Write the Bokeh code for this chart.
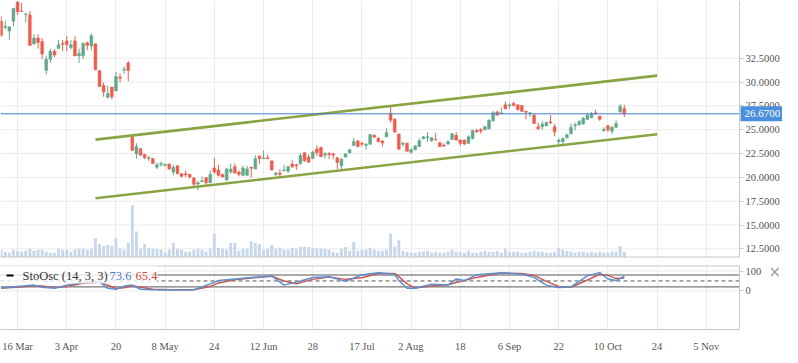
from bokeh.plotting import figure
from bokeh.models import (Range1d, FixedTicker, Label, ColumnDataSource,
                          PrintfTickFormatter, BoxAnnotation, LinearAxis)
from bokeh.layouts import column
from bokeh.embed import file_html
from bokeh.resources import INLINE

# ---------------- data ----------------
opens = [36.37, 35.73, 35.36, 36.37, 38.39, 37.45, 37.08, 37.04, 34.01, 34.62,
         34.25, 31.22, 32.40, 33.24, 33.51, 34.05, 34.32, 33.61, 34.32, 32.74,
         32.74, 34.12, 33.78, 34.01, 31.22, 29.64, 28.39, 29.47, 29.07, 30.51,
         31.25, 32.00, 24.25, 22.47, 23.01, 22.40, 21.96, 21.96, 21.05, 21.36,
         21.26, 21.39, 20.55, 21.22, 20.38, 20.38, 20.31, 19.94, 19.30, 19.54,
         19.98, 19.44, 20.99, 20.78, 20.31, 19.71, 20.55, 21.12, 20.55, 20.21,
         20.21, 21.05, 20.88, 22.23, 21.96, 22.06, 21.73, 20.31, 20.45, 20.68,
         20.65, 21.39, 21.32, 21.46, 22.57, 22.13, 21.99, 22.97, 23.14, 22.33,
         22.50, 22.47, 22.06, 21.22, 22.13, 22.57, 23.34, 23.81, 23.58, 23.34,
         23.48, 24.42, 24.08, 23.81, 24.25, 26.70, 26.10, 24.55, 23.47, 23.57,
         22.63, 22.90, 23.24, 24.08, 24.15, 23.84, 23.98, 23.64, 23.40, 23.50,
         23.98, 24.41, 23.91, 23.91, 23.57, 24.08, 24.92, 24.99, 24.99, 25.09,
         25.93, 26.87, 26.67, 27.61, 27.51, 27.75, 27.61, 27.55, 26.94, 26.67,
         26.54, 25.32, 25.32, 25.42, 25.83, 25.32, 23.74, 23.74, 24.15, 24.58,
         25.42, 25.53, 25.59, 26.10, 26.27, 26.77, 26.43, 24.92, 25.42, 24.85,
         25.26, 26.87, 27.21]
highs = [36.88, 36.44, 35.80, 37.80, 38.46, 38.32, 37.28, 37.45, 35.02, 35.02,
         34.62, 32.77, 33.51, 33.44, 34.42, 34.42, 34.82, 34.42, 34.82, 33.51,
         34.18, 34.25, 35.09, 34.01, 31.22, 29.97, 29.64, 29.47, 31.09, 30.88,
         31.66, 32.23, 24.35, 23.58, 23.07, 22.47, 22.30, 22.06, 21.56, 21.66,
         21.39, 21.46, 21.32, 21.22, 20.45, 20.72, 20.38, 20.04, 19.64, 20.11,
         19.98, 20.72, 22.06, 21.32, 20.38, 20.99, 21.46, 21.46, 20.72, 21.22,
         21.22, 21.12, 22.33, 22.30, 22.80, 22.40, 21.73, 20.55, 20.88, 21.32,
         21.22, 21.79, 21.46, 22.57, 22.67, 22.40, 22.80, 23.34, 23.24, 22.67,
         22.67, 22.57, 22.13, 22.06, 22.47, 23.00, 24.15, 23.91, 23.75, 23.58,
         24.49, 24.52, 24.25, 23.91, 25.16, 27.45, 26.20, 24.60, 23.74, 23.64,
         23.07, 23.40, 24.08, 24.31, 24.75, 24.25, 24.65, 23.74, 23.57, 23.91,
         24.65, 24.75, 23.98, 23.98, 24.41, 24.99, 25.09, 25.19, 25.42, 26.10,
         26.94, 27.00, 27.34, 27.95, 27.78, 27.95, 27.61, 27.55, 26.94, 26.87,
         26.60, 25.76, 25.93, 25.86, 26.54, 25.59, 24.08, 24.18, 24.58, 25.66,
         25.76, 26.00, 26.33, 26.77, 26.87, 27.11, 26.43, 25.26, 25.42, 25.42,
         26.00, 27.68, 27.61]
lows = [34.75, 35.53, 34.45, 35.87, 37.04, 37.38, 36.27, 33.85, 33.91, 33.51,
        32.40, 30.82, 32.00, 32.60, 33.51, 33.24, 33.24, 33.44, 32.74, 32.00,
        32.43, 33.34, 33.34, 31.22, 29.47, 28.46, 28.29, 28.19, 29.07, 29.97,
        30.88, 30.08, 22.74, 21.96, 22.30, 21.90, 21.73, 21.39, 20.88, 21.12,
        21.12, 20.78, 20.21, 20.31, 19.98, 20.04, 19.87, 19.10, 18.63, 19.54,
        19.20, 19.37, 20.38, 20.11, 20.00, 19.64, 20.38, 20.38, 20.11, 20.14,
        20.14, 19.98, 20.85, 21.39, 21.96, 21.90, 20.72, 20.11, 19.87, 20.65,
        20.45, 20.99, 20.78, 21.32, 21.66, 21.56, 21.90, 22.23, 22.13, 21.99,
        21.90, 21.90, 20.88, 20.88, 22.06, 22.47, 23.34, 23.14, 23.24, 22.90,
        23.41, 24.15, 23.68, 23.24, 24.20, 25.75, 24.65, 22.85, 23.24, 22.73,
        22.50, 22.83, 23.17, 23.98, 23.74, 23.74, 23.91, 23.17, 23.17, 23.40,
        23.91, 23.84, 23.30, 23.40, 23.50, 23.98, 24.65, 24.58, 24.92, 24.99,
        25.86, 26.43, 26.67, 27.11, 27.21, 27.45, 27.01, 26.87, 26.10, 26.33,
        25.60, 24.99, 24.99, 25.32, 25.59, 24.31, 23.50, 23.50, 24.08, 24.51,
        24.92, 25.42, 25.53, 26.00, 26.20, 26.54, 25.93, 24.75, 24.75, 24.51,
        25.19, 26.77, 26.33]
closes = [34.92, 35.87, 35.80, 37.72, 37.38, 37.40, 37.15, 33.85, 34.62, 34.15,
          32.94, 32.40, 33.24, 32.84, 33.91, 33.98, 33.91, 33.91, 32.74, 33.00,
          34.05, 33.85, 34.86, 31.32, 29.54, 28.96, 28.80, 28.46, 30.58, 30.41,
          31.35, 31.22, 22.84, 23.24, 22.33, 22.06, 22.06, 21.46, 21.32, 21.46,
          21.39, 20.88, 21.05, 20.38, 20.11, 20.28, 20.04, 19.27, 19.44, 19.64,
          19.44, 20.31, 20.55, 20.21, 20.04, 20.88, 20.88, 20.45, 20.31, 20.99,
          20.88, 20.95, 21.95, 21.96, 22.06, 21.96, 20.78, 20.45, 20.31, 20.78,
          21.12, 21.12, 21.22, 22.30, 21.73, 21.59, 22.67, 22.57, 22.16, 22.47,
          22.40, 22.33, 21.56, 21.90, 22.47, 22.90, 23.75, 23.24, 23.48, 23.48,
          24.49, 24.22, 23.75, 23.60, 24.70, 26.00, 24.75, 22.97, 23.57, 22.73,
          22.90, 23.30, 23.84, 24.25, 24.25, 24.15, 23.91, 23.24, 23.30, 23.74,
          24.58, 23.91, 23.57, 23.50, 24.25, 24.92, 24.79, 24.85, 25.32, 26.00,
          26.77, 26.54, 26.77, 27.21, 27.61, 27.55, 27.11, 26.94, 26.84, 26.77,
          25.66, 25.09, 25.59, 25.76, 25.73, 24.75, 23.91, 24.08, 24.48, 25.26,
          25.53, 25.86, 26.20, 26.54, 26.67, 26.67, 26.10, 25.05, 24.99, 25.26,
          25.66, 27.45, 26.67]
volumes = [320, 240, 200, 320, 280, 240, 280, 360, 280, 320,
           320, 240, 200, 200, 360, 320, 320, 240, 320, 360,
           360, 320, 360, 800, 560, 480, 520, 480, 800, 360,
           320, 600, 2160, 1080, 360, 560, 400, 360, 360, 320,
           200, 320, 600, 360, 320, 240, 240, 320, 360, 320,
           240, 360, 1000, 400, 360, 320, 600, 600, 280, 360,
           360, 680, 600, 560, 320, 360, 520, 360, 400, 320,
           320, 400, 360, 440, 440, 440, 400, 360, 360, 360,
           320, 240, 200, 360, 440, 280, 640, 280, 320, 320,
           400, 320, 280, 280, 320, 1000, 440, 720, 280, 240,
           200, 200, 240, 240, 280, 200, 240, 200, 200, 240,
           320, 240, 240, 200, 280, 200, 200, 240, 280, 240,
           240, 280, 200, 360, 240, 240, 240, 200, 200, 240,
           280, 240, 240, 200, 200, 240, 400, 320, 280, 240,
           200, 240, 240, 200, 240, 200, 240, 200, 200, 240,
           240, 480, 240]

# stochastic oscillator (read at sample bars)
k_bar = [0, 4, 8, 10, 13, 16, 20, 24, 26, 28, 30, 32, 34, 37, 42, 47, 51, 53, 57, 61,
         64, 66, 69, 72, 76, 80, 84, 88, 92, 96, 97, 99, 101, 105, 109, 111, 113, 116,
         122, 127, 130, 133, 136, 139, 143, 146, 148, 150, 152]
k_vals = [13, 22, 29, 18, 13, 29, 44, 44, 13, 8, 24, 29, 8, 5, 4, 6, 35, 52, 60, 68,
          71, 76, 29, 44, 67, 71, 48, 81, 92, 84, 52, 13, 13, 33, 29, 60, 52, 81,
          92, 84, 68, 29, 17, 20, 76, 92, 60, 52, 73.6]
d_vals = [15, 18, 26, 24, 16, 22, 38, 44, 28, 12, 16, 26, 18, 8, 5, 5, 22, 40, 56, 65,
          70, 74, 50, 36, 58, 70, 58, 66, 88, 88, 72, 35, 15, 24, 31, 42, 52, 68,
          90, 88, 78, 48, 22, 18, 55, 84, 78, 62, 65.4]

# channel lines (bar index, price)
trend_x = [23.0, 160.0]
upper_y = [23.96, 30.68]
lower_y = [17.80, 24.52]

last_price = 26.67
price_ticks = [12.5, 15.0, 17.5, 20.0, 22.5, 25.0, 27.5, 30.0, 32.5]
osc_ticks = [0, 100]
osc_levels = [80, 50, 20]
tick_bars = [4, 16, 28, 40, 52, 64, 76, 88, 100, 112, 124, 136, 148, 160, 172]
tick_labels = ["16 Mar", "3 Apr", "20", "8 May", "24", "12 Jun", "28", "17 Jul",
               "2 Aug", "18", "6 Sep", "22", "10 Oct", "24", "5 Nov"]

# ---------------- layout / styling ----------------
TOTAL_W = 782
FW = 739                 # width of the plotting area left of the price axis
FH1 = 257
FH2 = 64
X0, X_EDGE = -0.16, 180.1
XR_END = X0 + TOTAL_W * (X_EDGE - X0) / FW
SERIF = "Liberation Serif"
GREEN = "#62a88a"
RED = "#ee5d4e"
GRID = "#ebebeb"
AXC = "#c8c8c8"
LBL = "#555555"

idx = list(range(len(opens)))
colors = [GREEN if c >= o else RED for o, c in zip(opens, closes)]
src = ColumnDataSource(dict(
    x=idx, o=opens, h=highs, l=lows, c=closes,
    top=[max(o, c) for o, c in zip(opens, closes)],
    bot=[min(o, c) for o, c in zip(opens, closes)],
    col=colors, vol=volumes))

xr = Range1d(X0, XR_END)
yr_main = Range1d(11.59, 38.56)
yr_osc = Range1d(-195, 128)


def price_axis(ticks, fmt):
    return LinearAxis(fixed_location=X_EDGE, ticker=FixedTicker(ticks=ticks),
                      formatter=PrintfTickFormatter(format=fmt),
                      axis_line_color=AXC, major_tick_line_color=AXC,
                      major_tick_out=4, major_tick_in=0, minor_tick_line_color=None,
                      major_label_standoff=2, major_label_text_font=SERIF,
                      major_label_text_font_size="10.5px", major_label_text_color=LBL)


def hlines(fig, levels, **kw):
    n = len(levels)
    fig.segment(x0=[X0] * n, x1=[X_EDGE] * n, y0=levels, y1=levels, **kw)


# ---------------- main price panel ----------------
p = figure(frame_width=TOTAL_W, frame_height=FH1, x_range=xr, y_range=yr_main,
           x_axis_location=None, y_axis_location=None,
           toolbar_location=None, output_backend="svg",
           min_border_left=0, min_border_top=0, min_border_bottom=1, min_border_right=0)
p.outline_line_color = None
p.extra_y_ranges = {"vol": Range1d(0, 10680)}
p.xgrid.ticker = FixedTicker(ticks=tick_bars)
p.xgrid.grid_line_color = GRID
p.ygrid.visible = False
hlines(p, price_ticks, line_color=GRID, line_width=1, level="underlay")

p.vbar(x="x", top="vol", bottom=0, width=0.7, source=src, y_range_name="vol",
       fill_color="#c6d6eb", line_color=None)
p.segment(x0="x", y0="l", x1="x", y1="h", source=src, line_color="col", line_width=1)
p.vbar(x="x", top="top", bottom="bot", width=0.7, source=src,
       fill_color="col", line_color="col", line_width=0.5)

p.line(trend_x, upper_y, line_color="#8aa443", line_width=2.6)
p.line(trend_x, lower_y, line_color="#8aa443", line_width=2.6)

hlines(p, [last_price], line_color="#3f7fcb", line_width=1)
hlines(p, [yr_main.start], line_color=AXC, line_width=2)

p.add_layout(price_axis(price_ticks, "%.4f"), "right")

tag_y = (last_price - yr_main.start) / (yr_main.end - yr_main.start) * FH1
p.add_layout(Label(x=FW + 1, y=tag_y, x_units="screen", y_units="screen",
                   text="%.4f" % last_price,
                   text_baseline="middle", text_align="left", text_color="white",
                   text_font=SERIF, text_font_size="11px",
                   background_fill_color="#4a8fdb", padding=4))

# ---------------- oscillator panel ----------------
q = figure(frame_width=TOTAL_W, frame_height=FH2, x_range=xr, y_range=yr_osc,
           y_axis_location=None, toolbar_location=None, output_backend="svg",
           min_border_left=0, min_border_top=7, min_border_bottom=18, min_border_right=0)
q.outline_line_color = None

xa = q.xaxis[0]
xa.ticker = FixedTicker(ticks=tick_bars)
xa.major_label_overrides = {b: t for b, t in zip(tick_bars, tick_labels)}
xa.bounds = (X0, X_EDGE)
xa.axis_line_color = AXC
xa.major_tick_line_color = None
xa.minor_tick_line_color = None
xa.major_label_standoff = 5
xa.major_label_text_font = SERIF
xa.major_label_text_font_size = "10.5px"
xa.major_label_text_color = LBL
q.xgrid.ticker = FixedTicker(ticks=tick_bars)
q.xgrid.grid_line_color = GRID
q.ygrid.visible = False
hlines(q, osc_ticks, line_color=GRID, line_width=1, level="underlay")
hlines(q, [yr_osc.end], line_color=AXC, line_width=2)

for lvl, dash in zip(osc_levels, ("solid", "4 3", "solid")):
    hlines(q, [lvl], line_color="#555555", line_width=1, line_dash=dash)

q.line(k_bar, d_vals, line_color="#c85a55", line_width=1.5)
q.line(k_bar, k_vals, line_color="#5b8fd2", line_width=1.5)

q.add_layout(price_axis(osc_ticks, "%d"), "right")

q.add_layout(BoxAnnotation(left=0, right=157, top=FH2, bottom=FH2 - 18,
                           left_units="screen", right_units="screen",
                           top_units="screen", bottom_units="screen",
                           fill_color="white", fill_alpha=0.8, line_color=None))
q.add_layout(BoxAnnotation(left=6, right=13, top=FH2 - 9, bottom=FH2 - 11,
                           left_units="screen", right_units="screen",
                           top_units="screen", bottom_units="screen",
                           fill_color="black", fill_alpha=1, line_color=None))
for xx, txt, colr in ((22, "StoOsc (14, 3, 3)", "#333333"),
                      (109, "%.1f" % k_vals[-1], "#4a78c0"),
                      (135, "%.1f" % d_vals[-1], "#c9463d")):
    q.add_layout(Label(x=xx, y=FH2 - 10, x_units="screen", y_units="screen", text=txt,
                       text_baseline="middle", text_align="left", text_color=colr,
                       text_font=SERIF, text_font_size="12.5px"))
q.add_layout(Label(x=FW + 29, y=FH2 - 6, x_units="screen", y_units="screen", text="×",
                   text_baseline="middle", text_align="left", text_color="#9a9a9a",
                   text_font="DejaVu Sans", text_font_size="15px"))

layout = column(p, q, spacing=0)
open("out.html", "w").write(file_html(layout, INLINE))
